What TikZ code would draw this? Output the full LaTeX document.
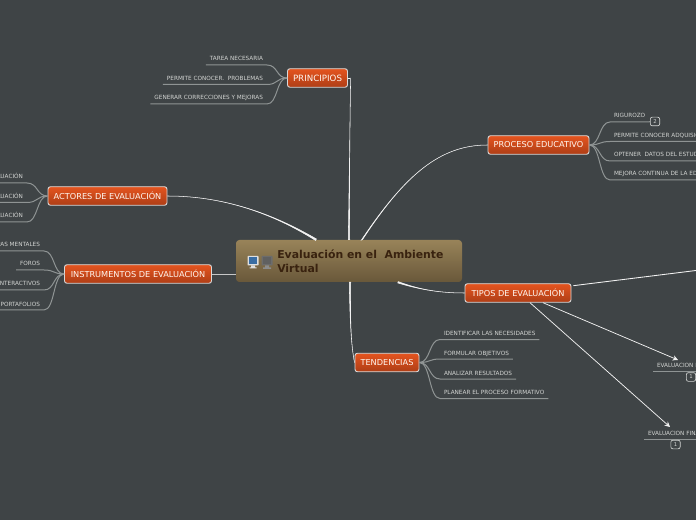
\documentclass[tikz,border=0pt]{standalone}
\usepackage{fontspec}
\setmainfont{DejaVu Sans}
\usetikzlibrary{arrows.meta}
\definecolor{bgc}{HTML}{3F4446}
\definecolor{leafline}{HTML}{8F9494}
\definecolor{leaftext}{HTML}{D2D4D2}
\definecolor{mainline}{HTML}{F2F2F2}
\definecolor{orangetop}{HTML}{E4541F}
\definecolor{orangebot}{HTML}{AE3E16}
\definecolor{roottop}{HTML}{988359}
\definecolor{rootbot}{HTML}{69583A}
\definecolor{roottext}{HTML}{39220F}
\tikzset{
  topic/.style={draw=white!85!black,line width=.7pt,rounded corners=1.8pt,top color=orangetop,bottom color=orangebot,text=white!94!orange,font=\fontsize{6.15pt}{7pt}\selectfont,inner sep=0pt,minimum height=18.5*.75pt},
  leaf/.style={text=leaftext,font=\fontsize{4.3pt}{5pt}\selectfont,text height=3pt,text depth=0pt,inner xsep=3pt,inner ysep=0pt,outer sep=0pt,minimum height=9pt},
  lleaf/.style={leaf,anchor=south east},
  rleaf/.style={leaf,anchor=south west},
  branch/.style={draw=leafline,line width=.75pt},
  mainc/.style={draw=mainline,fill=mainline,line width=.4pt},
  straightc/.style={draw=mainline,line width=.7pt},
  arrowc/.style={draw=mainline,line width=.55pt,-{Stealth[length=4pt,width=4pt]}},
  badge/.style={draw=leaftext,line width=.5pt,rounded corners=1.5pt,text=leaftext,font=\fontsize{4pt}{5pt}\selectfont,minimum width=7pt,minimum height=6.5pt,inner sep=0pt}
}
\newcommand{\lbranch}[2]{\draw[branch] (#1.west) .. controls +(-11,0) and +(11,0) .. (#2.south east) -- (#2.south west);}
\newcommand{\rbranch}[2]{\draw[branch] (#1.east) .. controls +(11,0) and +(-11,0) .. (#2.south west) -- (#2.south east);}
% tapered connector: start, control 1, control 2, end, half width offsets at the end
\newcommand{\taper}[6]{\draw[mainc] #1 .. controls #2 and #3 .. ([shift={(#5,#6)}]#4) -- ([shift={(-#5,-#6)}]#4) .. controls #3 and #2 .. #1 -- cycle;}
\begin{document}
\begin{tikzpicture}[x=.75pt,y=-.75pt]
\useasboundingbox (0,0) rectangle (696,520);
\fill[bgc] (0,0) rectangle (696,520);
\clip (0,0) rectangle (696,520);
% root
\node[rounded corners=2.5pt,top color=roottop,bottom color=rootbot,minimum width=226*.75pt,minimum height=42*.75pt,inner sep=0pt] (root) at (349,261) {};
\node[anchor=west,align=left,text=roottext,inner sep=0pt,font=\bfseries\fontsize{8.15pt}{10.5pt}\selectfont] (rootlabel) at (277,261) {Evaluación en el \ Ambiente\\Virtual};
% icons
\fill[white!75!gray,rounded corners=.5pt] (247.5,256) rectangle (258.5,265.5);
\fill[white!75!gray] (251,265.5) rectangle (255,268) (249.5,267.5) rectangle (256.5,268.5);
\fill[cyan!55!blue!75!black] (249,257.5) rectangle (257,264);
\fill[gray!85!black,rounded corners=.5pt] (261.5,256) rectangle (272.5,265.5);
\fill[gray!90!white] (265,265.5) rectangle (269,267.5) (263,267.5) rectangle (271,269);
\fill[gray!75!black] (263,257.5) rectangle (271,264);
% topics
\node[topic,minimum width=60*.75pt] (prin) at (317.5,78) {\fontsize{6.5pt}{7pt}\selectfont PRINCIPIOS};
\node[topic,minimum width=119*.75pt] (acto) at (107.5,196) {ACTORES DE EVALUACIÓN};
\node[topic,minimum width=147*.75pt] (inst) at (138,274) {INSTRUMENTOS DE EVALUACIÓN};
\node[topic,minimum width=101*.75pt] (proc) at (538.5,145) {PROCESO EDUCATIVO};
\node[topic,minimum width=106*.75pt] (tipo) at (518,293) {TIPOS DE EVALUACIÓN};
\node[topic,minimum width=64*.75pt] (tend) at (387,362.5) {TENDENCIAS};
% attachment points on the root
\coordinate (rprin) at (root.north);
\coordinate (racto) at ([xshift=-24.75pt]root.north);
\coordinate (rproc) at ([xshift=9.75pt]root.north);
\coordinate (rtipo) at ([xshift=36.75pt]root.south);
\coordinate (rtend) at ([xshift=.75pt]root.south);
% main connectors
\draw[straightc] (prin.east) -- ++(2.5,0);
\taper{([xshift=2pt]prin.east)}{(350,120)}{(349,200)}{rprin}{.55pt}{0pt}
\taper{(acto.east)}{(230,196)}{(280,218)}{racto}{.3pt}{.55pt}
\draw[straightc,draw=white!78!black] (inst.east) -- (root.west |- inst.east);
\taper{(proc.west)}{(440,145)}{(405,175)}{rproc}{.45pt}{.25pt}
\taper{(tipo.west)}{(435,293)}{(415,288)}{rtipo}{.18pt}{.5pt}
\taper{(tend.west)}{(351,345)}{(350,320)}{rtend}{.55pt}{0pt}
% tipos branches
\coordinate (far) at (696,270.5);
\draw[straightc,line width=.65pt] ([shift={(1.5pt,5.5pt)}]tipo.east) -- (far);
\coordinate (tip1) at (678,360);
\coordinate (tip2) at (670,427);
\draw[arrowc] ([xshift=18.75pt]tipo.south) -- (tip1);
\draw[arrowc] ([xshift=9pt]tipo.south) -- (tip2);
% leaves left
\node[lleaf] (p1) at (267,65) {TAREA NECESARIA};
\node[lleaf] (p2) at (267,84.5) {PERMITE CONOCER. \ PROBLEMAS};
\node[lleaf] (p3) at (267,104) {GENERAR CORRECCIONES Y MEJORAS};
\node[lleaf] (a1) at (27,183) {EVALUACIÓN};
\node[lleaf] (a2) at (27,202.5) {EVALUACIÓN};
\node[lleaf] (a3) at (27,222) {EVALUACIÓN};
\node[lleaf] (i1) at (44,251) {MAPAS MENTALES};
\node[lleaf] (i2) at (44,270) {FOROS};
\node[lleaf] (i3) at (44,290) {INTERACTIVOS};
\node[lleaf] (i4) at (44,310) {PORTAFOLIOS};
\lbranch{prin}{p1}\lbranch{prin}{p2}\lbranch{prin}{p3}
\lbranch{acto}{a1}\lbranch{acto}{a2}\lbranch{acto}{a3}
\lbranch{inst}{i1}\lbranch{inst}{i2}\lbranch{inst}{i3}\lbranch{inst}{i4}
% leaves right
\node[rleaf] (r1) at (610,122) {RIGUROZO\hspace{2pt}};
\node[rleaf] (r2) at (610,141.5) {PERMITE CONOCER ADQUISICIÓN};
\node[rleaf] (r3) at (610,161) {OPTENER \ DATOS DEL ESTUDIANTE};
\node[rleaf] (r4) at (610,180) {MEJORA CONTINUA DE LA EDUCACIÓN};
\node[badge] (b1) at (655,121.5) {2};
\rbranch{proc}{r1}\rbranch{proc}{r2}\rbranch{proc}{r3}\rbranch{proc}{r4}
\draw[branch] (r1.south east) -- (b1.west);
\node[rleaf] (t1) at (440,339.5) {IDENTIFICAR LAS NECESIDADES};
\node[rleaf] (t2) at (440,359) {FORMULAR OBJETIVOS};
\node[rleaf] (t3) at (440,379) {ANALIZAR RESULTADOS};
\node[rleaf] (t4) at (440,398.5) {PLANEAR EL PROCESO FORMATIVO};
\rbranch{tend}{t1}\rbranch{tend}{t2}\rbranch{tend}{t3}\rbranch{tend}{t4}
\node[rleaf] (e1) at (653,371) {EVALUACION INICIAL};
\node[rleaf] (e2) at (644,439) {EVALUACION FINAL};
\draw[branch] (e1.south west) -- (e1.south east);
\draw[branch] (e2.south west) -- (e2.south east);
\node[badge] (b2) at (691,377) {1};
\node[badge] (b3) at (675.5,444.5) {1};
\end{tikzpicture}
\end{document}
